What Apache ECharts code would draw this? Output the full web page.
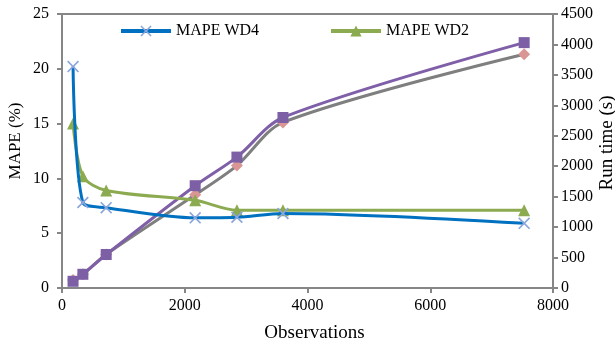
<!DOCTYPE html>
<html>
<head>
<meta charset="utf-8">
<script src="https://cdn.jsdelivr.net/npm/echarts@6/dist/echarts.min.js"></script>
<style>
  html, body { margin: 0; padding: 0; background: #fff; }
  #chart { width: 615px; height: 346px; }
</style>
</head>
<body>
<div id="chart"></div>
<script>
// Number of observations used in each run
const observations = [180, 340, 720, 2170, 2850, 3600, 7530];
// Forecast error (%) for the two window sizes
const mapeWD4 = [20.2, 7.8, 7.33, 6.4, 6.45, 6.8, 5.9];
const mapeWD2 = [15.0, 10.2, 8.9, 8.0, 7.1, 7.1, 7.1];
// Run times (s)
const runTimeA = [110, 225, 550, 1680, 2150, 2800, 4030];
const runTimeB = [130, 225, 550, 1530, 2010, 2720, 3840];

const leftTicks = { min: 0, max: 25, interval: 5 };
const rightTicks = { min: 0, max: 4500, interval: 500 };
const xTicks = { min: 0, max: 8000, interval: 2000 };

const pairs = (xs, ys) => xs.map((x, i) => [x, ys[i]]);

const FONT = '"Times New Roman", "Liberation Serif", serif';
const AXIS_GRAY = '#868686';
const crossPath = 'path://M0,1L1,0L5,4L9,0L10,1L6,5L10,9L9,10L5,6L1,10L0,9L4,5Z';
const plain = v => String(v);

const chart = echarts.init(document.getElementById('chart'));

const axisCommon = {
  axisLine: { show: true, lineStyle: { color: AXIS_GRAY, width: 2 } },
  axisTick: { show: true, inside: false, length: 5, lineStyle: { color: AXIS_GRAY, width: 2 } },
  splitLine: { show: false },
  nameMoveOverlap: false,
  axisLabel: { color: '#000', fontFamily: FONT, fontSize: 16, formatter: plain }
};

const nameStyle = (size, padding) => ({ color: '#000', fontFamily: FONT, fontSize: size, padding: padding });
const legendText = { color: '#000', fontFamily: FONT, fontSize: 16 };

chart.setOption({
  animation: false,
  backgroundColor: '#fff',
  textStyle: { fontFamily: FONT },
  grid: {
    left: 62, right: 62, top: 14, bottom: 58,
    outerBoundsMode: 'none',
    containLabel: false,
    show: true, borderColor: AXIS_GRAY, borderWidth: 2
  },
  legend: [
    {
      data: ['MAPE WD4'],
      left: 114, top: 18,
      itemWidth: 50, itemHeight: 14, itemGap: 4,
      lineStyle: { width: 4 },
      textStyle: legendText
    },
    {
      data: ['MAPE WD2'],
      left: 324, top: 18,
      itemWidth: 50, itemHeight: 14, itemGap: 4,
      lineStyle: { width: 4 },
      textStyle: legendText
    }
  ],
  xAxis: Object.assign({}, axisCommon, {
    type: 'value',
    min: xTicks.min, max: xTicks.max, interval: xTicks.interval,
    name: 'Observations',
    nameLocation: 'middle',
    nameGap: 36,
    nameTextStyle: nameStyle(19, [0, 0, 0, 14]),
    axisLabel: Object.assign({}, axisCommon.axisLabel, { margin: 10 })
  }),
  yAxis: [
    Object.assign({}, axisCommon, {
      type: 'value',
      min: leftTicks.min, max: leftTicks.max, interval: leftTicks.interval,
      name: 'MAPE (%)',
      nameLocation: 'middle',
      nameGap: 38,
      nameTextStyle: nameStyle(17, [0, 0, 0, 20]),
      axisLabel: Object.assign({}, axisCommon.axisLabel, { margin: 13 })
    }),
    Object.assign({}, axisCommon, {
      type: 'value',
      position: 'right',
      min: rightTicks.min, max: rightTicks.max, interval: rightTicks.interval,
      name: 'Run time (s)',
      nameLocation: 'middle',
      nameGap: 45,
      nameRotate: 90,
      nameTextStyle: nameStyle(19, [0, 0, 0, 16]),
      axisLabel: Object.assign({}, axisCommon.axisLabel, { margin: 8 })
    })
  ],
  series: [
    {
      name: 'Run time WD2',
      type: 'line',
      yAxisIndex: 1,
      data: pairs(observations, runTimeB),
      smooth: 0.3,
      symbol: 'diamond',
      symbolSize: 12,
      lineStyle: { color: '#7F7F7F', width: 3 },
      itemStyle: { color: '#D99694' },
      z: 2
    },
    {
      name: 'Run time WD4',
      type: 'line',
      yAxisIndex: 1,
      data: pairs(observations, runTimeA),
      smooth: 0.3,
      symbol: 'rect',
      symbolSize: 11,
      lineStyle: { color: '#7F5FA8', width: 3 },
      itemStyle: { color: '#7D5FA5' },
      z: 3
    },
    {
      name: 'MAPE WD2',
      type: 'line',
      yAxisIndex: 0,
      data: pairs(observations, mapeWD2),
      smooth: 0.3,
      symbol: 'triangle',
      symbolSize: 12,
      lineStyle: { color: '#8CAA50', width: 3 },
      itemStyle: { color: '#8CAA50' },
      z: 4
    },
    {
      name: 'MAPE WD4',
      type: 'line',
      yAxisIndex: 0,
      data: pairs(observations, mapeWD4),
      smooth: 0.3,
      symbol: crossPath,
      symbolSize: 12,
      lineStyle: { color: '#0070C0', width: 3 },
      itemStyle: { color: '#8BA6DC' },
      z: 5
    }
  ]
});
</script>
</body>
</html>
